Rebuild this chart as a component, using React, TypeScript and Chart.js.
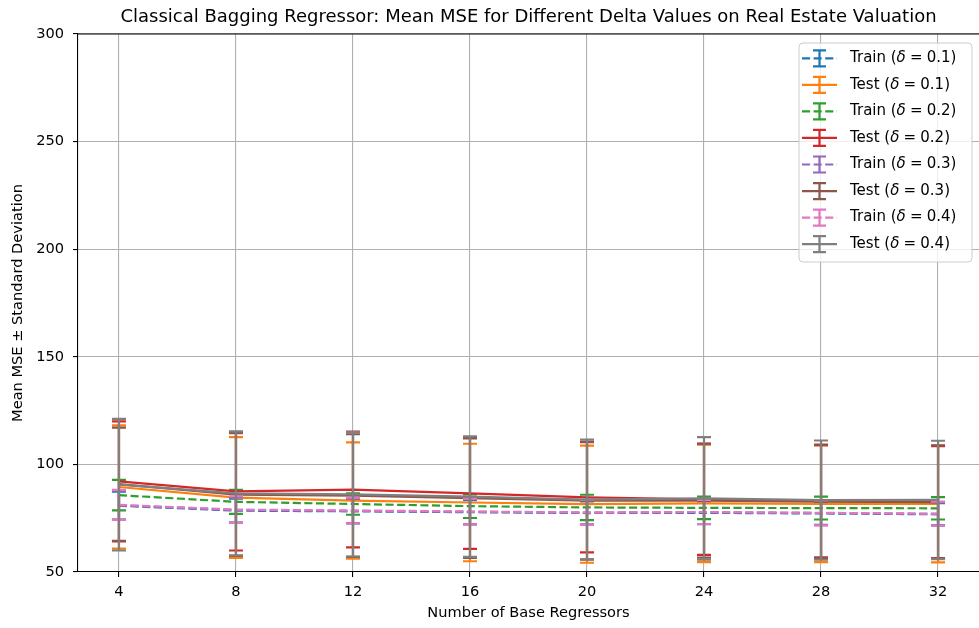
import React, { useEffect, useRef } from "react";
import { Chart, registerables } from "chart.js";

Chart.register(...registerables);

// ---------- data ----------
const nBase = [4, 8, 12, 16, 20, 24, 28, 32];
const xTicks = [4, 8, 12, 16, 20, 24, 28, 32];
const yTicks = [50, 100, 150, 200, 250, 300];

const trainMean01 = [80.8, 78.5, 78.2, 77.8, 77.4, 77.5, 77.2, 76.8];
const trainStd01 = [6.5, 5.6, 5.5, 5.6, 5.4, 5.3, 5.3, 5.2];
const testMean01 = [89.5, 84.6, 83.2, 82.3, 81.5, 81.9, 81.7, 81.6];
const testStd01 = [28.6, 28.1, 27.0, 27.3, 27.2, 27.3, 27.1, 27.1];

const trainMean02 = [85.7, 82.6, 81.6, 80.6, 80.0, 79.8, 79.7, 79.6];
const trainStd02 = [7.1, 5.6, 5.0, 5.5, 5.9, 5.2, 5.3, 5.2];
const testMean02 = [92.1, 87.5, 88.3, 86.5, 84.7, 83.8, 83.0, 82.5];
const testStd02 = [27.9, 27.5, 26.9, 25.8, 25.6, 25.8, 26.2, 26.0];

const trainMean03 = [81.0, 78.8, 78.4, 78.0, 77.6, 77.8, 77.4, 77.0];
const trainStd03 = [6.8, 6.0, 5.8, 5.9, 5.6, 5.5, 5.6, 5.3];
const testMean03 = [90.8, 86.0, 85.5, 84.3, 83.2, 83.2, 82.7, 82.5];
const testStd03 = [26.3, 28.5, 28.5, 27.8, 27.3, 26.5, 26.2, 26.3];

const trainMean04 = [81.2, 79.0, 78.6, 78.1, 77.7, 77.9, 77.5, 77.1];
const trainStd04 = [7.0, 6.2, 6.0, 6.0, 5.8, 5.6, 5.8, 5.6];
const testMean04 = [90.6, 86.5, 86.1, 85.0, 83.6, 84.2, 83.4, 83.5];
const testStd04 = [30.6, 28.8, 28.9, 28.0, 27.9, 28.5, 27.7, 27.5];

const deltas = ["0.1", "0.2", "0.3", "0.4"];
const colors = [
  "#1f77b4", "#ff7f0e", "#2ca02c", "#d62728",
  "#9467bd", "#8c564b", "#e377c2", "#7f7f7f",
];

const seriesMeans = [
  trainMean01, testMean01, trainMean02, testMean02,
  trainMean03, testMean03, trainMean04, testMean04,
];
const seriesStds = [
  trainStd01, testStd01, trainStd02, testStd02,
  trainStd03, testStd03, trainStd04, testStd04,
];

const titleText =
  "Classical Bagging Regressor: Mean MSE for Different Delta Values on Real Estate Valuation";
const xTitle = "Number of Base Regressors";
const yTitle = "Mean MSE \u00b1 Standard Deviation";

const FONT = "DejaVu Sans";
const FS = 14.6;
const LW = 2.2;
const DASH = [8.1, 3.5];

// ---------- plugins ----------
const errorBarPlugin = {
  id: "errorBars",
  afterDatasetDraw(chart: any, args: any) {
    const ds = chart.data.datasets[args.index];
    const std: number[] = ds.stdDev;
    if (!std) return;
    const { ctx, chartArea } = chart;
    const xs = chart.scales.x;
    const ys = chart.scales.y;
    ctx.save();
    ctx.beginPath();
    ctx.rect(chartArea.left, chartArea.top, chartArea.right - chartArea.left, chartArea.bottom - chartArea.top);
    ctx.clip();
    ctx.strokeStyle = ds.borderColor;
    ctx.lineWidth = LW;
    ctx.setLineDash([]);
    const cap = 7;
    ds.data.forEach((p: any, i: number) => {
      const x = xs.getPixelForValue(p.x);
      const yT = ys.getPixelForValue(p.y + std[i]);
      const yB = ys.getPixelForValue(p.y - std[i]);
      ctx.beginPath();
      ctx.moveTo(x, yT);
      ctx.lineTo(x, yB);
      ctx.moveTo(x - cap, yT);
      ctx.lineTo(x + cap, yT);
      ctx.moveTo(x - cap, yB);
      ctx.lineTo(x + cap, yB);
      ctx.stroke();
    });
    ctx.restore();
  },
};

const framePlugin = {
  id: "frameAndLegend",
  afterDraw(chart: any) {
    const { ctx, chartArea } = chart;
    ctx.save();
    // top spine
    ctx.strokeStyle = "#000";
    ctx.lineWidth = 1.1;
    ctx.beginPath();
    ctx.moveTo(chartArea.left, chartArea.top);
    ctx.lineTo(chartArea.right, chartArea.top);
    ctx.stroke();

    // legend
    const bx = 799, by = 43, bw = 173, bh = 219;
    ctx.beginPath();
    (ctx as any).roundRect(bx, by, bw, bh, 4);
    ctx.fillStyle = "rgba(255,255,255,0.8)";
    ctx.fill();
    ctx.strokeStyle = "#cccccc";
    ctx.lineWidth = 1;
    ctx.stroke();

    const datasets = chart.data.datasets;
    datasets.forEach((ds: any, i: number) => {
      const y = 58.3 + i * 26.55;
      const hx0 = 802, hx1 = 837, hc = 819.5;
      ctx.strokeStyle = ds.borderColor;
      ctx.lineWidth = LW;
      ctx.setLineDash(ds.isTrain ? DASH : []);
      ctx.beginPath();
      ctx.moveTo(hx0, y);
      ctx.lineTo(hx1, y);
      ctx.stroke();
      ctx.setLineDash([]);
      ctx.beginPath();
      ctx.moveTo(hc, y - 8);
      ctx.lineTo(hc, y + 8);
      ctx.moveTo(hc - 6.5, y - 8);
      ctx.lineTo(hc + 6.5, y - 8);
      ctx.moveTo(hc - 6.5, y + 8);
      ctx.lineTo(hc + 6.5, y + 8);
      ctx.stroke();

      ctx.fillStyle = "#000";
      ctx.textBaseline = "middle";
      ctx.textAlign = "left";
      let tx = 850;
      const lfs = 15;
      const normal = `${lfs}px '${FONT}'`;
      const italic = `italic ${lfs}px '${FONT}'`;
      const parts: [string, string, number][] = [
        [`${ds.kind} (`, normal, 0],
        ["\u03b4", italic, 4.2],
        ["=", normal, 4.2],
        [`${ds.delta})`, normal, 0],
      ];
      parts.forEach(([t, f, after]) => {
        ctx.font = f;
        ctx.fillText(t, tx, y);
        tx += ctx.measureText(t).width + after;
      });
    });
    ctx.restore();
  },
};

export default function App() {
  const ref = useRef<HTMLCanvasElement | null>(null);

  useEffect(() => {
    document.body.style.margin = "0";
    if (!ref.current) return;

    const datasets = seriesMeans.map((means, i) => {
      const isTrain = i % 2 === 0;
      const delta = deltas[Math.floor(i / 2)];
      return {
        label: `${isTrain ? "Train" : "Test"} (δ = ${delta})`,
        kind: isTrain ? "Train" : "Test",
        delta,
        isTrain,
        data: nBase.map((x, j) => ({ x, y: means[j] })),
        stdDev: seriesStds[i],
        borderColor: colors[i],
        backgroundColor: colors[i],
        borderWidth: LW,
        borderDash: isTrain ? DASH : [],
        pointRadius: 0,
        tension: 0,
        fill: false,
        order: seriesMeans.length - 1 - i,
      };
    });

    const chart = new Chart(ref.current, {
      type: "line",
      data: { datasets: datasets as any },
      options: {
        responsive: false,
        animation: false,
        events: [],
        layout: { padding: 0 },
        plugins: {
          legend: { display: false },
          tooltip: { enabled: false },
          title: {
            display: true,
            text: titleText,
            fullSize: false,
            color: "#000",
            font: { family: FONT, size: 18, weight: "normal", lineHeight: 1.2 },
            padding: { top: 6.7, bottom: 5.7 },
          },
        },
        scales: {
          x: {
            type: "linear",
            min: 2.6,
            max: 33.4,
            afterBuildTicks: (s: any) => {
              s.ticks = xTicks.map((v) => ({ value: v }));
            },
            afterFit: (s: any) => {
              s.height = 56;
            },
            ticks: {
              color: "#000",
              font: { family: FONT, size: FS },
              padding: 6.5,
              maxRotation: 0,
              autoSkip: false,
            },
            grid: {
              color: "#b0b0b0",
              lineWidth: 1.1,
              tickLength: 5,
              tickColor: "#000",
              tickWidth: 1.1,
            },
            border: { color: "#000", width: 1.1 },
            title: {
              display: true,
              text: xTitle,
              color: "#000",
              font: { family: FONT, size: FS },
              padding: { top: 0, bottom: 6.3 },
            },
          },
          y: {
            type: "linear",
            min: 50,
            max: 300,
            afterBuildTicks: (s: any) => {
              s.ticks = yTicks.map((v) => ({ value: v }));
            },
            afterFit: (s: any) => {
              s.width = 78;
            },
            ticks: {
              color: "#000",
              font: { family: FONT, size: FS },
              padding: 9,
            },
            grid: {
              color: "#b0b0b0",
              lineWidth: 1.1,
              tickLength: 5,
              tickColor: "#000",
              tickWidth: 1.1,
            },
            border: { color: "#000", width: 1.1 },
            title: {
              display: true,
              text: yTitle,
              color: "#000",
              font: { family: FONT, size: FS },
              padding: { top: 9.2, bottom: 0 },
            },
          },
        },
      },
      plugins: [errorBarPlugin, framePlugin],
    });

    return () => chart.destroy();
  }, []);

  return (
    <div style={{ width: 979, height: 628 }}>
      <canvas ref={ref} width={979} height={628} style={{ display: "block" }} />
    </div>
  );
}
